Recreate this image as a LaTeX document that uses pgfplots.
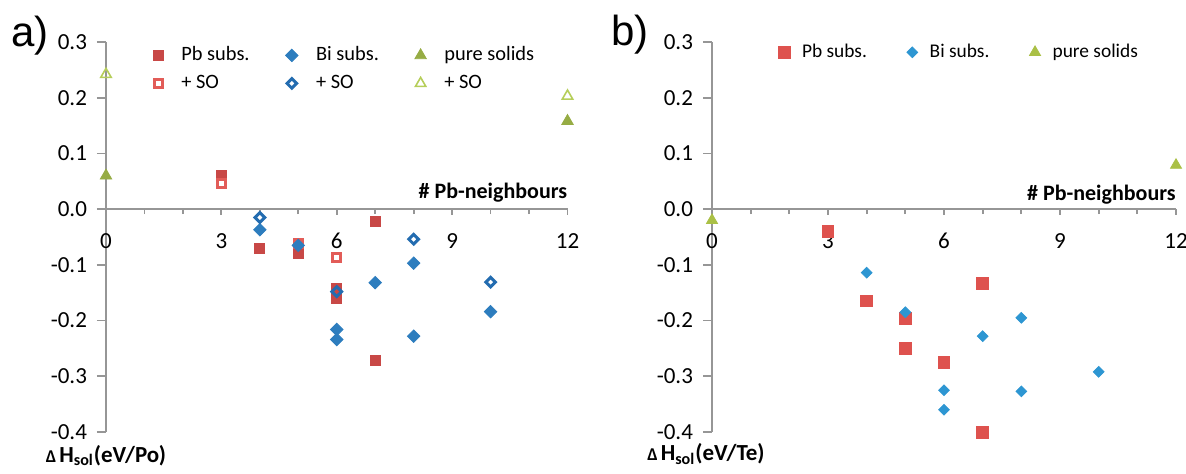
\documentclass[border=0pt]{standalone}
\usepackage{fontspec}
\setmainfont{Carlito}
\newfontfamily\arialfont{Liberation Sans}
\usepackage{pgfplots}
\pgfplotsset{compat=1.18}

\definecolor{axgray}{RGB}{150,150,150}
\definecolor{redA}{RGB}{200,72,70}
\definecolor{redA2}{RGB}{226,92,88}
\definecolor{blueA}{RGB}{45,125,190}
\definecolor{blueA2}{RGB}{35,108,176}
\definecolor{greenA}{RGB}{150,172,68}
\definecolor{greenA2}{RGB}{182,206,90}
\definecolor{redB}{RGB}{222,82,78}
\definecolor{blueB}{RGB}{45,150,210}
\definecolor{greenB}{RGB}{170,192,70}

\pgfplotstableread{
x y
3 0.061
4 -0.070
5 -0.079
6 -0.143
6 -0.160
7 -0.022
7 -0.271
}\pbA
\pgfplotstableread{
x y
3 0.046
5 -0.062
6 -0.087
}\pbsoA
\pgfplotstableread{
x y
4 -0.037
5 -0.065
6 -0.216
6 -0.234
7 -0.132
8 -0.097
8 -0.228
10 -0.184
}\biA
\pgfplotstableread{
x y
4 -0.015
6 -0.148
8 -0.054
10 -0.131
}\bisoA
\pgfplotstableread{
x y
0 0.060
12 0.158
}\pureA
\pgfplotstableread{
x y
0 0.242
12 0.203
}\puresoA

\pgfplotstableread{
x y
3 -0.040
4 -0.165
5 -0.196
5 -0.250
6 -0.275
7 -0.133
7 -0.401
}\pbB
\pgfplotstableread{
x y
4 -0.114
5 -0.185
6 -0.325
6 -0.360
7 -0.228
8 -0.195
8 -0.327
10 -0.292
}\biB
\pgfplotstableread{
x y
0 -0.020
12 0.079
}\pureB

\pgfplotsset{
  myaxis/.style={
    scale only axis, clip=false,
    xmin=0, xmax=12, ymin=-0.4, ymax=0.3,
    axis x line=middle, axis y line=left,
    axis line style={-, draw=axgray, line width=0.9pt},
    every inner x axis line/.append style={-},
    every outer y axis line/.append style={-},
    hide obscured x ticks=false, hide obscured y ticks=false,
    xtick={0,3,6,9,12}, xticklabels={0,3,6,9,12},
    minor xtick={1,2,4,5,7,8,10,11},
    ytick={-0.4,-0.3,-0.2,-0.1,0,0.1,0.2,0.3},
    yticklabels={-0.4,-0.3,-0.2,-0.1,0.0,0.1,0.2,0.3},
    tick style={draw=axgray, line width=0.9pt},
    tick align=outside,
    major tick length=4.5pt, minor tick length=2.5pt,
    xtick style={/pgfplots/major tick length=2.8pt},
    tick label style={font=\fontsize{11.5}{13}\selectfont},
    xticklabel style={yshift=-4pt},
    yticklabel style={xshift=-1.5pt},
    legend cell align=left,
    legend image code/.code={\draw[##1] plot coordinates {(0pt,0pt)};},
  },
  pbA/.style={only marks, mark=square*, mark size=2.5pt, color=redA},
  pbsoA/.style={only marks, mark=square, mark size=2.0pt, mark options={line width=1.3pt}, color=redA2},
  biA/.style={only marks, mark=square*, mark size=2.2pt, mark options={rotate=45}, color=blueA},
  bisoA/.style={only marks, mark=square, mark size=1.7pt, mark options={rotate=45, line width=1.5pt}, color=blueA2},
  pureA/.style={only marks, mark=triangle*, mark size=3.3pt, color=greenA},
  puresoA/.style={only marks, mark=triangle, mark size=3.0pt, mark options={line width=0.8pt}, color=greenA2},
  pbB/.style={only marks, mark=square*, mark size=2.9pt, color=redB},
  biB/.style={only marks, mark=square*, mark size=1.9pt, mark options={rotate=45}, color=blueB},
  pureB/.style={only marks, mark=triangle*, mark size=3.2pt, color=greenB},
}

\begin{document}
\begin{tikzpicture}
\useasboundingbox (0,0) rectangle (593pt,236.5pt);

% ---------------- panel a ----------------
\begin{axis}[myaxis,
  at={(53pt,20.5pt)}, anchor=south west,
  width=230.75pt, height=195pt,
  legend columns=3,
  legend style={at={(axis cs:1.22,0.2964)}, anchor=north west, draw=none, fill=none,
    inner sep=0pt, row sep=3pt,
    font=\fontsize{10.2}{12}\selectfont,
    nodes={inner sep=1pt, text height=7pt, text depth=2pt},
    /tikz/every odd column/.append style={column sep=8pt},
    /tikz/every even column/.append style={column sep=17pt}},
]
\addlegendimage{pbA}\addlegendentry{Pb subs.}
\addlegendimage{biA}\addlegendentry{Bi subs.}
\addlegendimage{pureA}\addlegendentry{pure solids}
\addlegendimage{pbsoA}\addlegendentry{+ SO}
\addlegendimage{bisoA}\addlegendentry{+ SO}
\addlegendimage{puresoA}\addlegendentry{+ SO}
\addplot[pbA, forget plot] table {\pbA};
\addplot[pbsoA, forget plot] table {\pbsoA};
\addplot[biA, forget plot] table {\biA};
\addplot[bisoA, forget plot] table {\bisoA};
\addplot[pureA, forget plot] table {\pureA};
\addplot[puresoA, forget plot] table {\puresoA};
\node[anchor=base east, font=\fontsize{11}{13}\selectfont\bfseries, yshift=5.5pt, inner sep=0pt] at (axis cs:12,0) {\# Pb-neighbours};
\node[anchor=base, font=\fontsize{11.5}{13}\selectfont\bfseries, yshift=-15pt, inner sep=0pt] at (axis cs:0,-0.4) {{\fontsize{9}{10}\selectfont Δ\,}H\textsubscript{sol}(eV/Po)};
\end{axis}

% ---------------- panel b ----------------
\begin{axis}[myaxis,
  at={(356pt,20.5pt)}, anchor=south west,
  width=232pt, height=195pt,
  legend columns=3,
  legend style={at={(axis cs:1.707,0.302)}, anchor=north west, draw=none, fill=none,
    inner sep=0pt,
    font=\fontsize{9.7}{11}\selectfont,
    nodes={inner sep=1pt, text height=7pt, text depth=2pt},
    /tikz/every odd column/.append style={column sep=5pt},
    /tikz/every even column/.append style={column sep=19pt}},
]
\addplot[pbB] table {\pbB};
\addlegendentry{Pb subs.}
\addplot[biB] table {\biB};
\addlegendentry{Bi subs.}
\addplot[pureB] table {\pureB};
\addlegendentry{pure solids}
\node[anchor=base east, font=\fontsize{11}{13}\selectfont\bfseries, yshift=4.5pt, inner sep=0pt] at (axis cs:12,0) {\# Pb-neighbours};
\node[anchor=base, font=\fontsize{11.5}{13}\selectfont\bfseries, yshift=-14.2pt, xshift=-3pt, inner sep=0pt] at (axis cs:0,-0.4) {{\fontsize{9}{10}\selectfont Δ\,}H\textsubscript{sol}(eV/Te)};
\end{axis}

\node[font=\arialfont\fontsize{21}{23}\selectfont, inner sep=0pt] at (15pt,218.5pt) {a)};
\node[font=\arialfont\fontsize{21}{23}\selectfont, inner sep=0pt] at (315pt,219pt) {b)};
\end{tikzpicture}
\end{document}
